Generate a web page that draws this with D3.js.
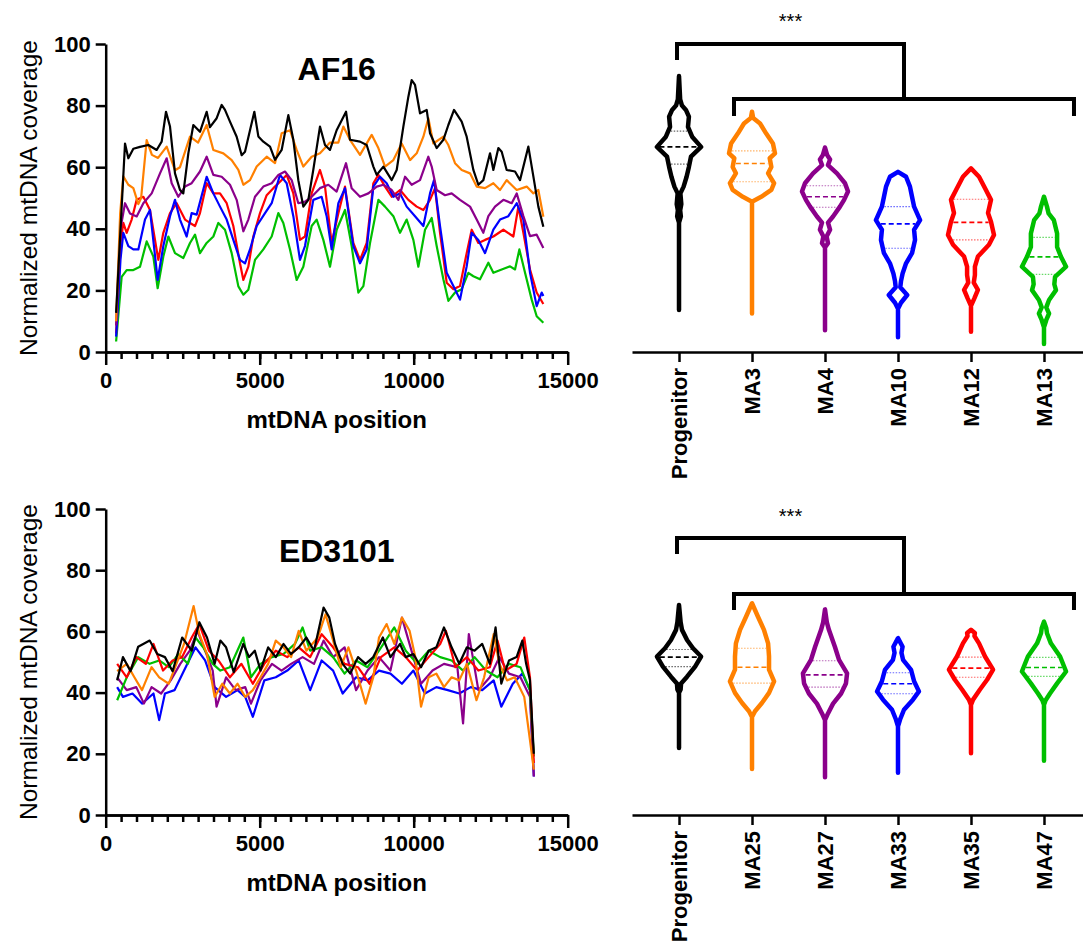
<!DOCTYPE html>
<html>
<head>
<meta charset="utf-8">
<script src="https://cdn.jsdelivr.net/npm/d3@7"></script>
<style>
  body { margin: 0; background: #fff; }
  svg { display: block; font-family: "Liberation Sans", Arial, Helvetica, sans-serif; }
  .axis path, .axis line { stroke: #000; stroke-width: 2.5; }
  .axis text { font-size: 22px; font-weight: bold; fill: #000; font-family: "Liberation Sans", Arial, sans-serif; }
</style>
</head>
<body>
<svg id="chart" width="1083" height="947"></svg>
<script>
// ---- AF16 coverage traces: [mtDNA position, normalized coverage] ----
var af16Black = [[338,12.7],[627,67.7],[735,62.9],[897,66],[1114,66.6],[1384,67.2],[1655,65.6],[1817,68.3],[1958,78],[2088,73.2],[2250,58],[2412,52.6],[2520,51.5],[2683,64.5],[2845,73.7],[3061,71.5],[3278,78],[3386,73],[3603,75.9],[3765,80.2],[3873,78.6],[4035,74.8],[4252,69.9],[4415,63.9],[4523,65],[4685,72],[4826,78],[4956,70],[5118,68.3],[5335,66.7],[5497,62.4],[5713,65.6],[5930,76.9],[6092,68.9],[6254,55.8],[6416,47.2],[6579,49.4],[6741,59.2],[6957,73.2],[7120,67.2],[7282,65.6],[7498,72],[7803,78],[7932,68.9],[8257,68.3],[8474,67.2],[8690,60.2],[8799,57.5],[9015,60.2],[9286,55.8],[9448,59.1],[9664,73.2],[9827,82.9],[9935,88.3],[10043,86.7],[10205,77.5],[10422,78.6],[10530,71],[10746,66.2],[10963,68.9],[11125,73.7],[11309,78.6],[11558,74.8],[11720,69.9],[11937,59.1],[12099,54.3],[12261,55.8],[12478,64.5],[12586,59.1],[12749,66.2],[12857,65],[13019,59.1],[13290,58.6],[13452,55.8],[13723,66.7],[13885,57],[14047,47.2],[14209,40.7]];
var af16Orange = [[338,10],[470,45],[572,57],[735,54.3],[897,53.2],[1060,48],[1150,50],[1330,68.8],[1500,64],[1700,63],[1980,66.7],[2250,59],[2412,60],[2737,69.9],[3000,68],[3278,73.7],[3495,65.6],[3820,64.5],[4090,62.3],[4307,59.1],[4469,54.3],[4685,55.8],[4902,60.2],[5227,63.4],[5497,61.3],[5713,71],[5984,72],[6200,65.6],[6416,60.2],[6687,63.4],[6957,64.5],[7282,68],[7552,68],[7716,73.2],[7932,68.9],[8257,64],[8636,70.5],[8853,66.2],[9069,60.2],[9340,62.3],[9610,67.7],[9881,62.3],[10097,64.5],[10314,69.9],[10476,75.9],[10638,67.7],[10963,69.9],[11125,67.2],[11342,61.3],[11558,59.1],[11829,58],[12045,53.7],[12316,53.2],[12586,54.8],[12803,52.6],[13019,55.8],[13344,52.6],[13669,53.7],[13885,51.5],[14047,52.6],[14209,43.9]];
var af16Purple = [[338,8.6],[480,40],[627,48.3],[790,45],[1006,44],[1222,48.3],[1493,51.5],[1763,58],[1980,62.9],[2142,54.8],[2358,50.4],[2575,53.7],[2791,54.8],[3061,58.6],[3278,63.4],[3495,57.5],[3765,56.9],[4035,54.3],[4252,49.4],[4469,39.2],[4631,43],[4847,50.4],[5118,53.7],[5389,54.8],[5605,57.5],[5821,58.6],[6038,55.8],[6254,48.3],[6470,48.8],[6687,50.4],[6957,53.2],[7228,54.3],[7498,52.1],[7803,61.3],[7986,53.2],[8257,50.4],[8528,51.5],[8799,53.7],[9015,54.3],[9286,52.6],[9502,49.4],[9719,56.9],[9935,54.3],[10205,55.8],[10476,63.4],[10584,60.2],[10746,52.6],[11017,50.9],[11233,51.5],[11504,49.4],[11829,47.2],[12045,43],[12261,38.7],[12424,44.1],[12640,47.2],[12911,49.4],[13182,48.3],[13344,51.5],[13561,44.1],[13777,37.6],[13993,38.1],[14209,33.8]];
var af16Red = [[338,6],[480,35],[572,41.9],[681,38.7],[843,43],[1006,49.4],[1222,50.4],[1438,46.1],[1709,29.9],[1871,38.7],[2088,45.1],[2304,48.3],[2575,43],[2737,41.9],[2900,40.9],[3061,45.1],[3278,54.8],[3495,51.5],[3711,51.5],[3928,48.3],[4144,40.9],[4360,28.8],[4469,23.4],[4631,27.7],[4793,37.5],[5010,45.1],[5227,50.9],[5443,53.2],[5659,55.3],[5876,57.5],[6092,51.5],[6308,36.4],[6470,37.5],[6687,51.5],[6957,59.1],[7120,53.7],[7336,35.4],[7552,45],[7770,53.7],[8040,35.4],[8257,29.9],[8474,35.4],[8690,54.8],[8853,57.5],[9069,53.7],[9286,50.4],[9556,52.6],[9827,49.4],[10097,47.2],[10314,46.1],[10530,49.4],[10692,53.2],[10855,38.7],[11071,22.5],[11288,20.4],[11504,21.4],[11720,32.1],[11883,39.7],[12099,35.4],[12316,36.4],[12586,37.5],[12911,39.7],[13236,37.5],[13398,47.2],[13561,38.7],[13777,26.8],[13993,19.3],[14209,15.6]];
var af16Blue = [[338,5],[480,30],[572,38.7],[735,34.4],[897,33.3],[1060,33.3],[1276,43],[1438,46.1],[1687,23.4],[1871,34.4],[2088,44.1],[2250,49.4],[2412,43],[2629,37.5],[2791,45.1],[2954,44.6],[3278,56.9],[3495,51.5],[3711,47.2],[3928,43],[4144,36.4],[4360,29.9],[4523,28.8],[4685,33.3],[4902,40.9],[5173,45.1],[5389,48.3],[5659,57.5],[5876,54.8],[6092,44.1],[6308,29.9],[6470,34.4],[6741,49.4],[7011,50.4],[7174,44.1],[7336,33.3],[7554,48.3],[7770,53.2],[8040,34.4],[8257,28.8],[8474,33.3],[8690,53.7],[8907,56.9],[9123,54.8],[9340,50.4],[9556,51.5],[9772,47.2],[10043,44.1],[10314,40.9],[10530,51.5],[10660,55.8],[10855,40.9],[11071,25.7],[11288,21.4],[11504,17],[11720,27.8],[11883,38.7],[12099,36.4],[12316,32.1],[12586,39.7],[12803,43],[13073,44.1],[13344,48.3],[13561,43],[13777,25.7],[13993,14.9],[14155,19.3],[14209,18.2]];
var af16Green = [[338,3.4],[518,24.4],[681,26.6],[897,26.6],[1114,27.7],[1330,35.9],[1547,31],[1687,20.7],[1871,31],[2034,37.5],[2250,32.1],[2520,30.5],[2737,35.4],[2900,38.1],[3061,32.1],[3278,35.4],[3495,37.5],[3657,41.9],[3873,39.7],[4090,32.1],[4307,21.3],[4469,18.6],[4631,20.2],[4847,29.9],[5118,33.3],[5389,37.5],[5605,45.1],[5767,41.9],[5984,33.3],[6200,23.4],[6416,27.7],[6687,40.9],[6849,43],[7066,36.4],[7282,27.7],[7500,39.7],[7770,46.1],[7986,34.4],[8203,19.3],[8366,21.4],[8582,35.4],[8853,49.4],[9069,47.2],[9340,44.1],[9556,38.7],[9772,43],[9989,36.4],[10151,27.7],[10368,39.7],[10584,43.5],[10746,34.4],[10963,23.6],[11125,16.6],[11342,19.3],[11558,20.4],[11774,25.7],[11937,24.6],[12153,23.6],[12424,29],[12586,25.7],[12857,26.8],[13128,27.8],[13290,26.8],[13431,33.3],[13615,25.7],[13831,17],[13993,11.6],[14209,9.5]];

// ---- ED3101 coverage traces ----
var edBlack = [[372,44],[560,51.6],[807,47],[1055,55],[1427,57],[1675,52.6],[1924,51.6],[2172,47],[2482,58],[2792,53.7],[3040,63],[3289,58],[3537,49.4],[3723,57],[3909,54.8],[4157,46.7],[4468,55.9],[4654,51.6],[4840,53.7],[5026,47.2],[5274,54.8],[5522,51.6],[5771,55.9],[6019,52.6],[6267,54.8],[6515,58],[6763,53.7],[7074,67.8],[7260,64.5],[7446,55.9],[7694,49.4],[7942,46.2],[8191,51.6],[8439,49.4],[8687,51.6],[8997,58],[9245,51.6],[9556,55.9],[9742,51.6],[9990,52.6],[10238,48.3],[10486,53.7],[10735,54.8],[10983,61.3],[11231,54.8],[11479,49.4],[11727,54.8],[11976,53.7],[12224,55.9],[12472,49.4],[12658,61.3],[12844,42.9],[13093,50.5],[13341,51.6],[13527,57],[13651,49.4],[13775,44],[13900,20]];
var edOrange = [[372,47],[683,49.4],[931,45],[1179,40.8],[1489,48.3],[1737,45],[2048,42.9],[2296,49.4],[2544,55.9],[2854,68.3],[3040,59.1],[3289,52.6],[3537,38.6],[3785,42.9],[4033,39.7],[4281,42.9],[4530,38.6],[4778,40.8],[5026,45],[5274,49.4],[5522,57],[5771,54.8],[6019,51.6],[6267,60.2],[6515,53.7],[6888,58],[7136,65.6],[7384,57],[7632,48.3],[7880,54.8],[8129,47.2],[8439,36.4],[8687,45],[8873,58],[9121,62.4],[9370,55.9],[9618,64.5],[9866,60.2],[10052,51.6],[10238,35.4],[10486,45],[10735,46.2],[10983,41.8],[11231,45],[11479,44],[11727,49.4],[12038,37.5],[12286,45],[12596,59.1],[12782,49.4],[13031,44],[13279,45],[13589,38.6],[13775,24.5],[13900,14.8]];
var edGreen = [[372,37.5],[683,45],[1055,51.6],[1427,49.4],[1737,50.5],[2048,48.3],[2358,52.6],[2668,49.4],[2916,58],[3165,54.8],[3475,49.4],[3723,47.2],[4033,48.3],[4468,58],[4716,45],[5026,49.4],[5398,51.6],[5771,52.6],[6143,55.9],[6391,61.3],[6639,53.7],[7012,54.8],[7384,51.6],[7756,46.2],[8129,50.5],[8501,48.3],[8873,53.7],[9370,61.3],[9742,53.7],[10114,49.4],[10486,53.7],[10859,51.6],[11231,50.5],[11603,47.2],[11976,51.6],[12348,47.2],[12720,45],[13093,49.4],[13465,48.3],[13775,40.8],[13900,19.1]];
var edRed = [[372,49.4],[683,45],[993,51.6],[1303,49.4],[1551,55.9],[1862,47.2],[2172,50.5],[2482,51.6],[2792,58],[3040,62.4],[3351,53.7],[3661,50.5],[4033,45],[4406,49.4],[4778,42.9],[5150,49.4],[5522,53.7],[5895,51.6],[6267,54.8],[6639,51.6],[7012,59.1],[7384,54.8],[7756,49.4],[8191,48.3],[8563,42.9],[8935,51.6],[9370,54.8],[9742,51.6],[10114,47.2],[10486,51.6],[10859,55.9],[11045,60.2],[11355,48.3],[11727,51.6],[12100,47.2],[12472,48.3],[12720,57],[12969,47.2],[13341,49.4],[13589,58],[13775,45],[13900,17]];
var edBlue = [[372,41.8],[560,38.6],[869,39.7],[1179,36.4],[1551,39.7],[1737,31],[1924,39.7],[2234,40.8],[2544,47.2],[2916,54.8],[3227,50.5],[3537,41.8],[3909,38.6],[4281,40.8],[4530,38.6],[4778,32.1],[5150,44],[5522,45],[5895,47.2],[6267,50.5],[6639,40.8],[7012,50.5],[7384,47.2],[7694,39.7],[8129,45],[8501,44],[8873,47.2],[9245,46.2],[9618,42.9],[9990,47.2],[10362,39.7],[10735,41.8],[11107,40.8],[11479,39.7],[11852,41.8],[12224,40.8],[12596,44],[12844,35.4],[13217,42.9],[13527,46.2],[13775,40.8],[13900,12.6]];
var edPurple = [[372,45],[683,40.8],[993,41.8],[1241,36.4],[1489,41.8],[1799,39.7],[2110,44],[2420,49.4],[2730,53.7],[2978,60.2],[3227,53.7],[3475,47.2],[3599,35.4],[3909,45],[4219,40.8],[4530,41.8],[4716,36.4],[5026,44],[5398,49.4],[5709,47.2],[6019,49.4],[6391,51.6],[6763,49.4],[7074,57],[7384,51.6],[7756,54.8],[8129,40.8],[8501,47.2],[8873,51.6],[9245,47.2],[9618,64.5],[9928,53.7],[10238,42.9],[10611,47.2],[10983,49.4],[11417,48.3],[11603,29.9],[11790,59.1],[12100,40.8],[12472,45],[12782,51.6],[13093,46.2],[13465,45],[13775,38.6],[13900,12.6]];

// ---- violin groups ----
var af16Groups = ['Progenitor', 'MA3', 'MA4', 'MA10', 'MA12', 'MA13'];
var edGroups = ['Progenitor', 'MA25', 'MA27', 'MA33', 'MA35', 'MA47'];

// density profiles: [coverage, relative density]
var af16Density = [
  [[13.6,0],[42,0],[44,0.08],[46,0.05],[48,0.1],[51.5,0.06],[53.7,0.2],[56.9,0.33],[60.1,0.43],[63.4,0.52],[66.6,0.96],[69.9,0.57],[73.1,0.39],[76.4,0.43],[78.6,0.3],[80,0.13],[82,0.05],[89.6,0]],
  [[12.5,0],[48.8,0],[50.4,0.4],[52.6,0.84],[54.8,0.96],[58,0.7],[60.1,0.84],[62.9,0.77],[64.5,1.0],[67.7,0.91],[71,0.61],[74.2,0.35],[76,0.05],[78,0]],
  [[7.1,0],[34,0],[35.3,0.13],[37.5,0.07],[39.7,0.22],[42,0.13],[44,0.35],[47.2,0.65],[49.4,0.83],[52.1,1.0],[54.8,0.87],[58,0.52],[60.7,0.13],[62.5,0.22],[64,0.09],[66.4,0]],
  [[4.8,0],[14,0],[16,0.13],[18.5,0.4],[21,0.1],[23,0.13],[25.5,0.2],[28.8,0.35],[32.1,0.61],[36.4,0.74],[39.7,0.7],[42.8,0.96],[47.2,0.7],[50.4,0.61],[53.7,0.52],[56.9,0.35],[58.5,0]],
  [[6.6,0],[15,0],[17.5,0.15],[20.2,0.3],[22.5,0.12],[25,0.17],[27.7,0.17],[31,0.3],[34.8,0.78],[38,1.0],[42.3,0.87],[45.1,0.74],[49.4,0.87],[52.6,0.65],[56.9,0.35],[59.6,0]],
  [[2.6,0],[8,0],[10.4,0.1],[12.5,0.22],[14.5,0.1],[16.9,0.22],[20.1,0.52],[22,0.45],[24.4,0.48],[27.7,0.96],[30.9,0.74],[34.1,0.57],[38.5,0.57],[42.8,0.43],[45,0.2],[47.2,0.13],[50.4,0]]
];
var edDensity = [
  [[21.9,0],[40,0],[41,0.07],[43,0.09],[45.2,0.35],[48.5,0.7],[51.8,0.96],[54.5,0.61],[57.2,0.35],[60.5,0.13],[63,0.07],[68.6,0]],
  [[15,0],[32,0],[33.9,0.13],[36.6,0.43],[39.9,0.74],[43.7,0.96],[47.5,0.74],[51.8,0.74],[56.1,0.7],[60.5,0.52],[64.8,0.26],[69.2,0]],
  [[12.3,0],[31,0],[33.2,0.13],[36.4,0.35],[39.7,0.7],[43,0.91],[46.3,0.96],[50.7,0.61],[55,0.43],[60.5,0.17],[63,0.08],[67.2,0]],
  [[13.8,0],[29,0],[31.2,0.09],[34.4,0.26],[37.7,0.65],[40.4,0.91],[43.7,0.7],[47.4,0.57],[50.7,0.22],[53,0.15],[55,0.2],[57.8,0]],
  [[20.2,0],[36,0],[37.7,0.09],[41,0.39],[44.2,0.7],[47.5,0.96],[51.8,0.61],[56.1,0.35],[58.5,0.15],[59.5,0.17],[60.5,0]],
  [[17.7,0],[36,0],[37.5,0.07],[39.7,0.26],[43,0.57],[46.9,0.96],[51.8,0.7],[56.1,0.3],[59.4,0.13],[61,0.1],[63.2,0]]
];
// quartiles: [Q1, median, Q3]
var af16Quartiles = [[61,66.6,71.7],[55.3,61.2,65.3],[47,50.4,54],[33.7,41.6,47.2],[36.4,42.1,49.6],[25.2,30.9,37.2]];
var edQuartiles = [[48.5,51.6,54.1],[43.1,48.3,54.5],[41.8,45.8,50.4],[39.6,42.9,46.5],[45,48,51.6],[45.3,48.2,51.5]];

var yTicks = [0, 20, 40, 60, 80, 100];
var xTicks = [0, 5000, 10000, 15000];
var groupColors = ['#000000', '#ff8000', '#8b008b', '#0000ff', '#ff0000', '#00bf00'];

var panels = [
  { title: 'AF16', y0: 352, y1: 44, titleY: 80,
    lines: [[af16Green, '#00bf00'], [af16Red, '#ff0000'], [af16Blue, '#0000ff'], [af16Purple, '#8b008b'], [af16Orange, '#ff8000'], [af16Black, '#000000']],
    groups: af16Groups, density: af16Density, quart: af16Quartiles,
    starY: 28, bracketTop: 44, bracketLow: 99, legTop: 16, legLow: 17 },
  { title: 'ED3101', y0: 815, y1: 509, titleY: 562,
    lines: [[edBlue, '#0000ff'], [edPurple, '#8b008b'], [edGreen, '#00bf00'], [edRed, '#ff0000'], [edOrange, '#ff8000'], [edBlack, '#000000']],
    groups: edGroups, density: edDensity, quart: edQuartiles,
    starY: 523, bracketTop: 538, bracketLow: 594, legTop: 16, legLow: 16 }
];

var svg = d3.select('#chart');
var x = d3.scaleLinear().domain([0, 15000]).range([105.7, 567.7]);
var w = d3.scaleLinear().domain([0, 1]).range([0, 23]);

panels.forEach(function(p) {
  var y = d3.scaleLinear().domain([0, 100]).range([p.y0, p.y1]);
  var g = svg.append('g');

  // coverage traces
  var line = d3.line()
    .x(function(d) { return x(d[0]); })
    .y(function(d) { return y(d[1]); });
  p.lines.forEach(function(s) {
    g.append('path')
      .datum(s[0])
      .attr('d', line)
      .attr('fill', 'none')
      .attr('stroke', s[1])
      .attr('stroke-width', 2.2)
      .attr('stroke-linejoin', 'round');
  });

  // minor ticks every 500
  g.append('g')
    .attr('class', 'axis')
    .attr('transform', 'translate(0,' + p.y0 + ')')
    .call(d3.axisBottom(x).tickValues(d3.range(500, 15000, 500)).tickSize(7).tickSizeOuter(0).tickFormat(''));

  g.append('g')
    .attr('class', 'axis')
    .attr('transform', 'translate(0,' + p.y0 + ')')
    .call(d3.axisBottom(x).tickValues(xTicks).tickSize(13).tickSizeOuter(0).tickPadding(7).tickFormat(d3.format('d')));

  g.append('g')
    .attr('class', 'axis')
    .attr('transform', 'translate(' + x(0) + ',0)')
    .call(d3.axisLeft(y).tickValues(yTicks).tickSize(10).tickSizeOuter(0).tickPadding(5));

  g.append('text')
    .attr('x', (x.range()[0] + x.range()[1]) / 2)
    .attr('y', p.titleY)
    .attr('text-anchor', 'middle')
    .style('font-size', '32px')
    .style('font-weight', 'bold')
    .text(p.title);

  g.append('text')
    .attr('x', (x.range()[0] + x.range()[1]) / 2)
    .attr('y', p.y0 + 76)
    .attr('text-anchor', 'middle')
    .style('font-size', '24px')
    .style('font-weight', 'bold')
    .text('mtDNA position');

  g.append('text')
    .attr('transform', 'translate(37,' + (p.y0 + p.y1) / 2 + ') rotate(-90)')
    .attr('text-anchor', 'middle')
    .style('font-size', '24.5px')
    .text('Normalized mtDNA coverage');

  // violins
  var xv = d3.scalePoint().domain(p.groups).range([632, 1091]).padding(0.644);

  p.groups.forEach(function(name, i) {
    var cx = xv(name);
    var prof = p.density[i];
    var color = groupColors[i];
    var area = d3.area()
      .y(function(d) { return y(d[0]); })
      .x0(function(d) { return cx - w(d[1]); })
      .x1(function(d) { return cx + w(d[1]); })
      .curve(d3.curveLinear);
    g.append('path')
      .datum(prof)
      .attr('d', area)
      .attr('fill', '#fff')
      .attr('stroke', color)
      .attr('stroke-width', 4.5)
      .attr('stroke-linejoin', 'round');

    var dens = d3.scaleLinear().domain(prof.map(function(d) { return d[0]; })).range(prof.map(function(d) { return d[1]; }));
    p.quart[i].forEach(function(v, k) {
      var hw = Math.max(w(dens(v)) - 2.5, 2);
      g.append('line')
        .attr('x1', cx - hw).attr('x2', cx + hw)
        .attr('y1', y(v)).attr('y2', y(v))
        .attr('stroke', color)
        .attr('stroke-width', k === 1 ? 1.6 : 1.1)
        .attr('stroke-opacity', k === 1 ? 1 : 0.6)
        .attr('stroke-dasharray', k === 1 ? '5,3' : '1.5,1.5');
    });
  });

  var ax = g.append('g')
    .attr('class', 'axis')
    .attr('transform', 'translate(0,' + p.y0 + ')')
    .call(d3.axisBottom(xv).tickSize(10).tickSizeOuter(0).tickPadding(6));
  ax.selectAll('.tick text')
    .attr('transform', 'rotate(-90)')
    .attr('text-anchor', 'end')
    .attr('x', -16)
    .attr('y', 0)
    .attr('dy', '0.35em');

  // significance brackets
  var left = xv(p.groups[1]) - 18;
  var right = xv(p.groups[p.groups.length - 1]) + 30;
  var mid = (left + right) / 2;
  var x0 = xv(p.groups[0]) - 2;
  g.append('path')
    .attr('d', 'M' + x0 + ',' + (p.bracketTop + p.legTop) + 'V' + p.bracketTop + 'H' + mid + 'V' + p.bracketLow)
    .attr('fill', 'none').attr('stroke', '#000').attr('stroke-width', 4);
  g.append('path')
    .attr('d', 'M' + left + ',' + (p.bracketLow + p.legLow) + 'V' + p.bracketLow + 'H' + right + 'V' + (p.bracketLow + p.legLow))
    .attr('fill', 'none').attr('stroke', '#000').attr('stroke-width', 4);
  g.append('text')
    .attr('x', (x0 + mid) / 2)
    .attr('y', p.starY)
    .attr('text-anchor', 'middle')
    .style('font-size', '20px')
    .text('***');
});
</script>
</body>
</html>
